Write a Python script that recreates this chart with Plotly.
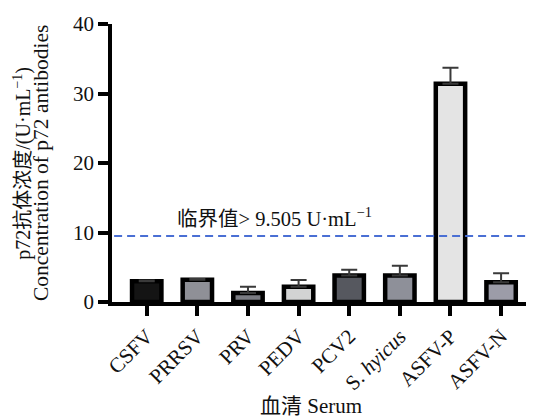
import plotly.graph_objects as go

categories = ["CSFV", "PRRSV", "PRV", "PEDV", "PCV2", "S. <i>hyicus</i>", "ASFV-P", "ASFV-N"]
values = [3.0, 3.2, 1.3, 2.2, 3.8, 3.8, 31.4, 2.85]
errors = [0.1, 0.1, 0.9, 0.95, 0.85, 1.4, 2.3, 1.3]
colors = ["#141414", "#8f9097", "#7b7c83", "#d2d3d3", "#56585f", "#8e9099", "#e4e4e4", "#9c9ca8"]
cutoff = 9.505

FONT = "Liberation Serif, Times New Roman, Noto Sans CJK SC, serif"
xpos = list(range(len(categories)))

fig = go.Figure()
fig.add_trace(go.Bar(
    x=xpos, y=values, width=0.58,
    marker=dict(color=colors, line=dict(color="#000000", width=4.5)),
    error_y=dict(type="data", array=errors, arrayminus=[0] * len(errors), symmetric=False,
                 color="#3a3a3a", thickness=2, width=8),
    showlegend=False,
))

fig.add_shape(type="line", xref="paper", yref="y", x0=0.005, x1=1, y0=cutoff, y1=cutoff,
              line=dict(color="#4a6fd4", width=2, dash="8px,5px"))

fig.add_annotation(x=2.52, y=12.3, xref="x", yref="y", showarrow=False,
                   text="临界值> 9.505 U·mL<sup>−1</sup>",
                   font=dict(family=FONT, size=20.5, color="#111"), xanchor="center", yanchor="middle")

fig.add_annotation(x=3.25, y=-0.375, xref="x", yref="paper", showarrow=False,
                   text="血清 Serum", font=dict(family=FONT, size=21, color="#111"),
                   xanchor="center", yanchor="middle")

fig.add_annotation(x=-0.214, y=0.5, xref="paper", yref="paper", showarrow=False, textangle=-90,
                   text="p72抗体浓度/(U·mL<sup>−1</sup>)", font=dict(family=FONT, size=20, color="#111"),
                   xanchor="center", yanchor="middle")
fig.add_annotation(x=-0.168, y=0.5, xref="paper", yref="paper", showarrow=False, textangle=-90,
                   text="Concentration of p72 antibodies", font=dict(family=FONT, size=21.5, color="#111"),
                   xanchor="center", yanchor="middle")

fig.update_layout(
    width=526, height=409,
    margin=dict(l=104, r=0, t=16, b=114.5),
    paper_bgcolor="white", plot_bgcolor="white",
    font=dict(family=FONT, size=21, color="#111"),
)
fig.update_xaxes(
    range=[-0.686, 7.65], tickmode="array", tickvals=xpos, ticktext=categories,
    tickangle=-45, tickfont=dict(family=FONT, size=21, color="#111"),
    showline=True, linecolor="#000", linewidth=3.5,
    ticks="outside", ticklen=10, tickwidth=3.5, tickcolor="#000",
    showgrid=False, zeroline=False,
)
fig.update_yaxes(
    range=[0, 40], tickvals=[0, 10, 20, 30, 40],
    tickfont=dict(family=FONT, size=21, color="#111"),
    showline=True, linecolor="#000", linewidth=3.5,
    ticks="outside", ticklen=10, tickwidth=3.5, tickcolor="#000",
    showgrid=False, zeroline=False,
)

fig.write_html("out.html")
